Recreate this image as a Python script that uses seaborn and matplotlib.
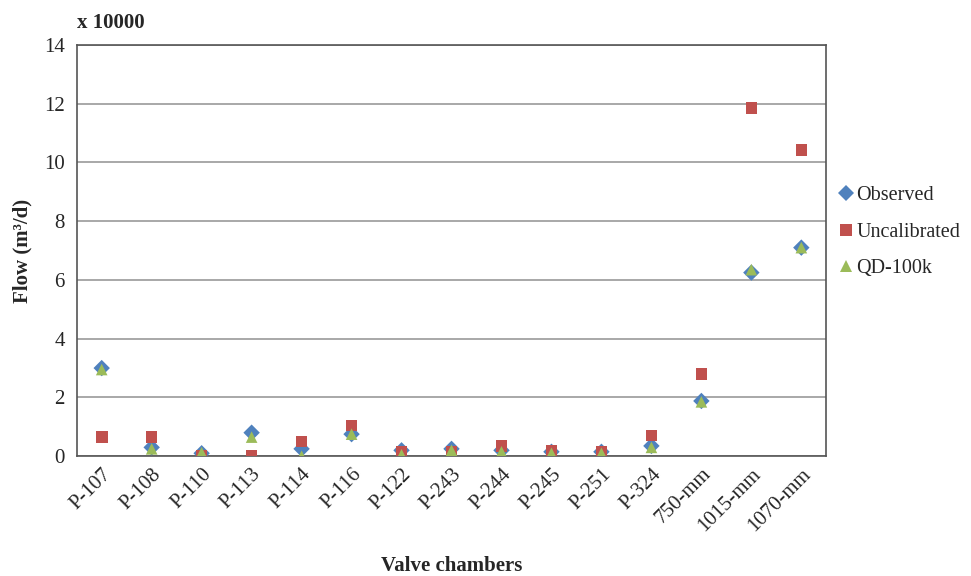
import numpy as np
import pandas as pd
import matplotlib
matplotlib.use("Agg")
import matplotlib.pyplot as plt
import seaborn as sns

chambers = ['P-107', 'P-108', 'P-110', 'P-113', 'P-114', 'P-116', 'P-122', 'P-243',
            'P-244', 'P-245', 'P-251', 'P-324', '750-mm', '1015-mm', '1070-mm']
observed = [3.0, 0.3, 0.1, 0.8, 0.25, 0.75, 0.2, 0.25, 0.2, 0.15, 0.15, 0.35, 1.88, 6.25, 7.1]
uncalibrated = [0.65, 0.65, 0.0, 0.0, 0.5, 1.05, 0.15, 0.15, 0.35, 0.2, 0.15, 0.7, 2.79, 11.86, 10.42]
qd_100k = [2.95, 0.25, 0.12, 0.65, 0.0, 0.75, 0.05, 0.2, 0.15, 0.1, 0.1, 0.3, 1.85, 6.35, 7.1]

series = {'Observed': observed, 'Uncalibrated': uncalibrated, 'QD-100k': qd_100k}
df = pd.concat([pd.DataFrame({'chamber': chambers, 'flow': v, 'series': k})
                for k, v in series.items()], ignore_index=True)

sns.set_style('white')
plt.rcParams['font.family'] = ['Liberation Serif', 'DejaVu Serif']

fig = plt.figure(figsize=(9.71, 5.76), dpi=100)
ax = fig.add_axes([0.079, 0.208, 0.772, 0.714])

palette = {'Observed': '#4F81BD', 'Uncalibrated': '#C0504D', 'QD-100k': '#9BBB59'}
markers = {'Observed': 'D', 'Uncalibrated': 's', 'QD-100k': '^'}
sns.scatterplot(data=df, x='chamber', y='flow', hue='series', style='series',
                palette=palette, markers=markers, s=70, linewidth=0, ax=ax, zorder=3)

ax.set_ylim(0, 14)
ax.set_yticks(np.arange(0, 15, 2))
ax.set_xlim(-0.5, len(chambers) - 0.5)
ax.yaxis.grid(True, color='#9a9a9a', linewidth=1.2)
ax.set_axisbelow(True)

# Excel-style: tick marks between categories, labels at the centres
ax.set_xticks(np.arange(-0.5, len(chambers), 1))
ax.set_xticklabels([])
ax.set_xticks(np.arange(len(chambers)), minor=True)
ax.set_xticklabels(chambers, minor=True, rotation=45, ha='right', rotation_mode='anchor',
                   fontsize=15)
ax.tick_params(axis='x', which='minor', length=0, pad=6)
ax.tick_params(axis='x', which='major', length=5, width=1, color='#707070', direction='out')
ax.tick_params(axis='y', length=5, width=1, color='#707070', direction='out', labelsize=15)

for sp in ax.spines.values():
    sp.set_color('#555555')
    sp.set_linewidth(1.2)

ax.set_xlabel('Valve chambers', fontsize=15, fontweight='bold')
ax.xaxis.label.set_va('center')
ax.xaxis.set_label_coords(0.5, -0.268)
ax.set_ylabel('Flow (m³/d)', fontsize=15, fontweight='bold', labelpad=8)
ax.text(0.0, 1.03, 'x 10000', transform=ax.transAxes, fontsize=15, fontweight='bold',
        ha='left', va='bottom')

leg = ax.legend(loc='center left', bbox_to_anchor=(1.0, 0.545), frameon=False,
                fontsize=14.5, handletextpad=0.0, labelspacing=0.85, borderaxespad=0.1,
                handlelength=1.0, title=None)

fig.savefig('out.png', dpi=100)
